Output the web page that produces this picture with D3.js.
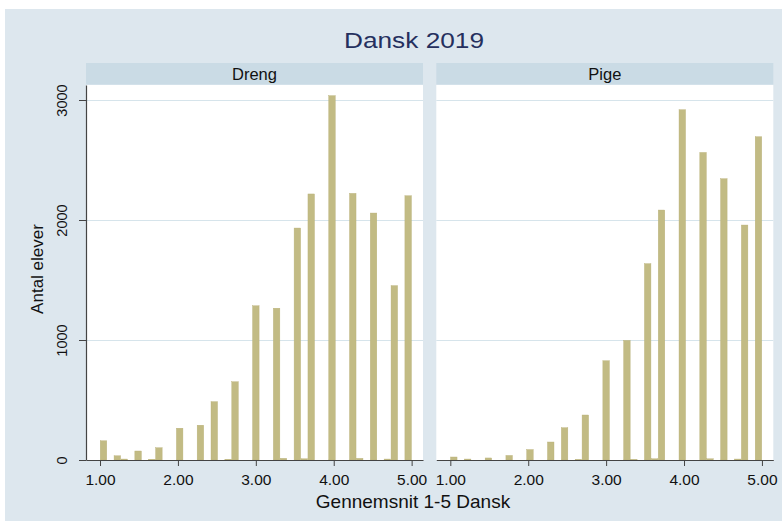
<!DOCTYPE html>
<html>
<head>
<meta charset="utf-8">
<script src="https://cdn.jsdelivr.net/npm/d3@7"></script>
<style>
  html, body { margin: 0; padding: 0; background: #ffffff; }
  svg { display: block; font-family: "Liberation Sans", Arial, Helvetica, sans-serif; }
</style>
</head>
<body>
<svg id="chart" width="782" height="524"></svg>
<script>
// ---- data ----
const titleText = "Dansk 2019";
const panels = ["Dreng", "Pige"];
const grades = [1.00, 1.25, 1.33, 1.50, 1.67, 1.75, 2.00, 2.25, 2.50, 2.67, 2.75, 3.00,
                3.25, 3.33, 3.50, 3.666, 3.75, 4.00, 4.25, 4.33, 4.50, 4.67, 4.75, 5.00];
const drengCounts = [160, 35, 8, 75, 6, 102, 265, 290, 486, 6, 652, 1285,
                     1265, 14, 1933, 10, 2217, 3036, 2222, 14, 2058, 8, 1453, 2202];
const pigeCounts  = [25, 8, 0, 17, 0, 38, 87, 150, 269, 5, 375, 827,
                     997, 5, 1636, 10, 2083, 2919, 2563, 10, 2344, 8, 1958, 2694];
const xTicks = [1, 2, 3, 4, 5];
const yTicks = [0, 1000, 2000, 3000];
const xTitle = "Gennemsnit 1-5 Dansk";
const yTitle = "Antal elever";
const nBins = 45, binLo = 1, binHi = 5;

// ---- layout ----
const svg = d3.select("#chart");
const bg = "#dde7ee", stripCol = "#cadbe5", barCol = "#c2bb84", gridCol = "#d6e4eb";
svg.append("rect").attr("x", 5).attr("y", 9).attr("width", 777).attr("height", 512).attr("fill", bg);

svg.append("text").attr("x", 414).attr("y", 48).attr("text-anchor", "middle")
  .attr("font-size", 22).attr("fill", "#25305e")
  .attr("textLength", 140).attr("lengthAdjust", "spacingAndGlyphs")
  .text(titleText);

const panelX = [86, 436.3], panelW = 337, plotTop = 85, plotBottom = 460;
const y = d3.scaleLinear().domain([0, 3125]).range([plotBottom, plotTop]);
const binW = (binHi - binLo) / nBins;
const series = [drengCounts, pigeCounts];

panels.forEach((name, p) => {
  const x0 = panelX[p];
  const x = d3.scaleLinear().domain([0.82, 5.146]).range([x0, x0 + panelW]);
  const g = svg.append("g");
  // strip
  g.append("rect").attr("x", x0).attr("y", 63).attr("width", panelW).attr("height", 21.5).attr("fill", stripCol);
  g.append("text").attr("x", x0 + panelW / 2).attr("y", 80).attr("text-anchor", "middle")
    .attr("font-size", 16.5).attr("fill", "#111").text(name);
  // plot area
  g.append("rect").attr("x", x0).attr("y", plotTop).attr("width", panelW).attr("height", plotBottom - plotTop).attr("fill", "#fff");
  // grid
  g.selectAll("line.grid").data(yTicks.filter(d => d > 0)).join("line")
    .attr("x1", x0).attr("x2", x0 + panelW)
    .attr("y1", d => y(d) + 0.5).attr("y2", d => y(d) + 0.5)
    .attr("stroke", gridCol).attr("stroke-width", 1.2);
  // bars
  const bars = grades.map((gr, i) => {
    const idx = Math.min(nBins - 1, Math.floor((gr - binLo) / binW + 1e-9));
    return { lo: binLo + idx * binW, hi: binLo + (idx + 1) * binW, v: series[p][i] };
  }).filter(d => d.v > 0);
  g.selectAll("rect.bar").data(bars).join("rect")
    .attr("x", d => x(d.lo) + 0.2).attr("width", d => x(d.hi) - x(d.lo) - 0.4)
    .attr("y", d => y(d.v)).attr("height", d => y(0) - y(d.v))
    .attr("fill", barCol).attr("stroke", "#b8b077").attr("stroke-width", 0.4);
  // x axis
  const xa = g.append("g").attr("transform", `translate(0,${plotBottom})`)
    .call(d3.axisBottom(x).tickValues(xTicks).tickFormat(d3.format(".2f")).tickSize(6).tickSizeOuter(0));
  xa.select(".domain").attr("stroke", "#444").attr("stroke-width", 1.2);
  xa.selectAll(".tick line").attr("stroke", "#444");
  xa.selectAll(".tick text").attr("font-size", 15.5).attr("fill", "#111").attr("dy", "1.05em")
    .attr("font-family", "Liberation Sans, Arial, sans-serif");
  if (p === 0) {
    const ya = g.append("g").attr("transform", `translate(${x0},0)`)
      .call(d3.axisLeft(y).tickValues(yTicks).tickFormat(d3.format("d")).tickSize(7).tickSizeOuter(0));
    ya.select(".domain").attr("stroke", "#444").attr("stroke-width", 1.2);
    ya.selectAll(".tick line").attr("stroke", "#444");
    ya.selectAll(".tick text").attr("font-size", 14.5).attr("fill", "#111")
      .attr("font-family", "Liberation Sans, Arial, sans-serif")
      .attr("text-anchor", "middle").attr("x", null).attr("dy", null)
      .attr("transform", "translate(-19,0) rotate(-90)");
  }
});

svg.append("text").attr("x", 413).attr("y", 508).attr("text-anchor", "middle")
  .attr("font-size", 19).attr("fill", "#111").text(xTitle);
svg.append("text").attr("transform", "translate(43,269) rotate(-90)").attr("text-anchor", "middle")
  .attr("font-size", 17).attr("fill", "#111").text(yTitle);
</script>
</body>
</html>
